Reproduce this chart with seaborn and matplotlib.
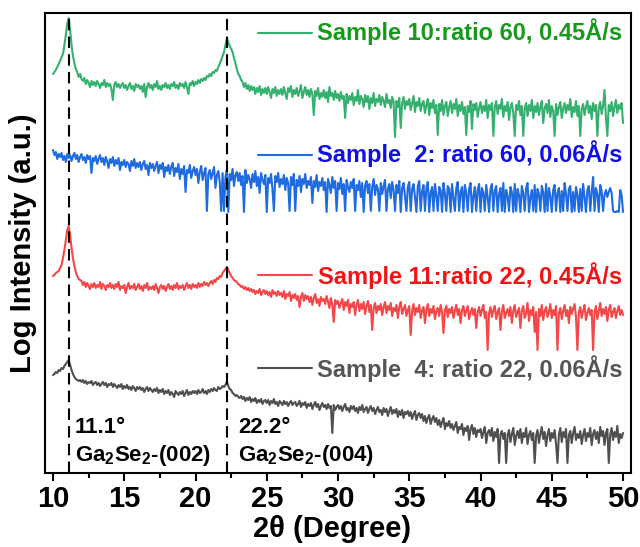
import numpy as np
import pandas as pd
import matplotlib
matplotlib.use("Agg")
import matplotlib.pyplot as plt
import seaborn as sns

# ---------------- data (2theta grid 10..50 step 0.1, arbitrary log-intensity units) -------------
two_theta = np.round(np.arange(100, 501) / 10.0, 1)

sample10 = [
    399, 401, 403, 406, 409, 412, 416, 419, 428, 438,
    449, 455, 443, 428, 417, 410, 404, 401, 396, 399,
    394, 392, 395, 389, 393, 390, 386, 392, 388, 391,
    387, 392, 389, 385, 390, 388, 393, 386, 390, 387,
    389, 384, 373, 388, 391, 386, 389, 385, 388, 390,
    385, 388, 383, 387, 390, 384, 387, 382, 389, 386,
    388, 384, 387, 381, 389, 376, 386, 390, 385, 388,
    383, 389, 386, 392, 384, 387, 383, 388, 386, 390,
    385, 388, 384, 389, 387, 391, 385, 388, 384, 390,
    387, 389, 385, 391, 386, 379, 390, 388, 392, 387,
    391, 389, 393, 390, 394, 392, 395, 393, 397, 396,
    399, 397, 401, 400, 403, 402, 406, 409, 413, 417,
    421, 428, 434, 431, 427, 424, 421, 415, 410, 404,
    399, 397, 393, 391, 386, 390, 384, 388, 382, 387,
    383, 386, 379, 385, 381, 387, 378, 384, 380, 385,
    379, 386, 381, 375, 384, 380, 386, 377, 383, 379,
    384, 378, 386, 380, 374, 385, 381, 387, 376, 383,
    379, 385, 377, 382, 388, 375, 381, 386, 378, 383,
    376, 384, 379, 358, 382, 377, 385, 374, 380, 376,
    383, 375, 381, 371, 386, 377, 380, 373, 382, 375,
    379, 372, 381, 374, 377, 355, 379, 370, 377, 373,
    380, 368, 376, 372, 383, 369, 377, 374, 366, 378,
    371, 377, 364, 375, 370, 380, 367, 374, 371, 378,
    368, 376, 372, 366, 379, 370, 373, 365, 376, 371,
    336, 372, 366, 375, 345, 370, 376, 364, 372, 368,
    374, 363, 370, 377, 361, 371, 367, 375, 362, 369,
    372, 360, 368, 374, 358, 370, 365, 373, 360, 368,
    338, 369, 362, 373, 358, 367, 371, 357, 366, 372,
    360, 369, 364, 374, 357, 368, 362, 371, 359, 366,
    338, 367, 361, 372, 344, 369, 363, 370, 356, 365,
    371, 360, 367, 362, 373, 355, 368, 363, 370, 337,
    366, 372, 359, 368, 364, 374, 356, 367, 362, 371,
    353, 366, 370, 360, 337, 368, 363, 372, 358, 367,
    337, 364, 370, 357, 368, 362, 373, 355, 367, 361,
    370, 358, 366, 372, 350, 365, 369, 360, 373, 356,
    367, 362, 337, 369, 358, 366, 371, 355, 364, 370,
    360, 368, 363, 374, 356, 366, 361, 372, 357, 367,
    337, 364, 369, 358, 366, 372, 360, 367, 354, 370,
    362, 368, 337, 365, 371, 359, 367, 383, 356, 337,
    368, 362, 371, 357, 366, 373, 360, 368, 364, 370,
    350,
]

sample2 = [
    323, 318, 321, 314, 319, 316, 320, 313, 317, 311,
    319, 315, 318, 312, 317, 320, 314, 318, 311, 316,
    319, 313, 316, 310, 318, 314, 317, 300, 315, 312,
    317, 309, 314, 318, 311, 315, 308, 316, 312, 305,
    314, 310, 316, 307, 313, 309, 315, 303, 311, 308,
    313, 306, 311, 309, 302, 312, 307, 314, 305, 310,
    306, 311, 303, 309, 312, 304, 308, 298, 310, 305,
    309, 302, 307, 311, 300, 308, 304, 310, 296, 306,
    302, 308, 299, 306, 310, 297, 305, 301, 309, 294,
    304, 299, 307, 281, 303, 300, 308, 295, 302, 306,
    298, 304, 290, 301, 307, 293, 300, 305, 262, 299,
    303, 294, 300, 306, 285, 298, 302, 291, 262, 300,
    262, 296, 303, 261, 299, 293, 304, 287, 298, 301,
    292, 300, 288, 297, 261, 303, 290, 298, 294, 285,
    299, 291, 302, 287, 296, 280, 300, 293, 289, 298,
    261, 295, 290, 299, 284, 262, 297, 291, 300, 286,
    294, 289, 298, 283, 295, 290, 262, 296, 288, 299,
    262, 293, 287, 297, 281, 294, 289, 299, 285, 292,
    288, 296, 270, 292, 286, 298, 282, 291, 287, 295,
    283, 291, 261, 294, 288, 280, 296, 285, 292, 262,
    290, 284, 295, 279, 289, 262, 293, 286, 281, 291,
    285, 294, 262, 288, 283, 292, 276, 290, 261, 287,
    292, 280, 289, 262, 286, 294, 278, 288, 284, 262,
    290, 279, 287, 293, 262, 284, 289, 275, 291, 283,
    262, 288, 280, 292, 261, 285, 290, 277, 262, 286,
    291, 262, 284, 289, 276, 261, 287, 292, 262, 282,
    288, 262, 285, 291, 261, 280, 286, 262, 289, 278,
    262, 286, 283, 261, 290, 279, 262, 287, 284, 261,
    289, 275, 262, 285, 291, 262, 281, 286, 261, 288,
    280, 262, 284, 290, 261, 277, 286, 262, 283, 289,
    261, 285, 280, 262, 288, 276, 261, 284, 289, 262,
    282, 287, 261, 279, 285, 262, 290, 261, 283, 277,
    262, 286, 281, 261, 289, 262, 284, 278, 261, 287,
    280, 262, 285, 290, 261, 276, 283, 262, 288, 261,
    284, 279, 262, 287, 281, 261, 289, 262, 285, 277,
    261, 283, 288, 262, 280, 285, 261, 282, 262, 290,
    279, 262, 284, 287, 261, 281, 262, 286, 278, 261,
    284, 262, 289, 276, 261, 283, 287, 262, 281, 296,
    262, 285, 279, 261, 288, 282, 262, 278, 283, 276,
    281, 285, 280, 262, 261, 261, 262, 261, 283, 278,
    261,
]

sample11 = [
    197, 198, 200, 201, 202, 205, 208, 215, 223, 233,
    243, 247, 238, 225, 215, 207, 201, 197, 194, 193,
    192, 188, 191, 186, 190, 187, 184, 189, 186, 190,
    185, 188, 186, 191, 184, 189, 187, 183, 188, 186,
    190, 185, 188, 184, 189, 186, 191, 183, 187, 185,
    188, 180, 186, 190, 184, 187, 185, 189, 183, 186,
    189, 184, 187, 182, 188, 185, 190, 183, 186, 184,
    187, 183, 189, 185, 180, 186, 188, 184, 187, 182,
    186, 189, 184, 187, 183, 188, 185, 190, 184, 187,
    185, 188, 183, 187, 190, 185, 188, 184, 189, 186,
    188, 185, 190, 186, 189, 187, 191, 188, 190, 187,
    190, 192, 189, 193, 191, 195, 194, 197, 196, 200,
    202, 204, 206, 203, 200, 197, 195, 193, 192, 191,
    189, 188, 186, 187, 184, 186, 183, 185, 182, 184,
    181, 183, 179, 182, 180, 184, 178, 181, 183, 179,
    182, 178, 181, 176, 183, 179, 181, 177, 182, 178,
    180, 176, 182, 174, 179, 177, 181, 172, 178, 175,
    179, 173, 177, 166, 176, 180, 172, 178, 174, 177,
    171, 176, 168, 175, 179, 170, 174, 167, 176, 172,
    174, 169, 177, 171, 165, 175, 168, 151, 173, 169,
    172, 165, 170, 174, 163, 171, 167, 173, 160, 169,
    166, 171, 158, 168, 173, 162, 169, 164, 171, 159,
    167, 172, 161, 168, 143, 165, 170, 160, 167, 163,
    169, 158, 166, 171, 160, 167, 163, 170, 157, 165,
    162, 168, 155, 166, 171, 159, 164, 168, 157, 163,
    167, 138, 162, 169, 158, 165, 161, 168, 155, 163,
    166, 150, 163, 169, 157, 164, 160, 167, 154, 162,
    165, 157, 168, 161, 140, 163, 167, 156, 164, 160,
    166, 155, 162, 168, 158, 164, 150, 163, 167, 157,
    162, 167, 154, 160, 165, 158, 164, 145, 161, 166,
    157, 163, 168, 155, 161, 123, 160, 166, 156, 163,
    167, 154, 161, 165, 143, 162, 168, 155, 160, 164,
    157, 166, 150, 162, 168, 156, 161, 165, 145, 163,
    167, 155, 160, 170, 152, 163, 158, 166, 141, 161,
    123, 164, 157, 168, 153, 162, 166, 156, 161, 169,
    155, 163, 158, 167, 123, 160, 165, 154, 162, 168,
    157, 163, 150, 166, 159, 164, 169, 156, 123, 161,
    166, 155, 162, 168, 153, 160, 165, 158, 163, 123,
    161, 167, 154, 162, 170, 157, 164, 159, 166, 152,
    163, 168, 156, 161, 165, 155, 162, 167, 158, 163,
    158,
]

sample4 = [
    98, 99, 101, 100, 103, 102, 105, 104, 107, 109,
    111, 113, 108, 103, 99, 96, 94, 93, 92, 93,
    91, 93, 90, 92, 89, 91, 90, 92, 88, 90,
    91, 88, 90, 87, 89, 91, 88, 90, 86, 89,
    88, 90, 86, 89, 87, 85, 88, 86, 89, 84,
    87, 85, 88, 84, 86, 83, 87, 85, 82, 86,
    84, 86, 83, 85, 81, 84, 86, 82, 85, 83,
    81, 84, 82, 85, 80, 83, 81, 84, 79, 82,
    80, 83, 78, 81, 79, 76, 82, 80, 78, 81,
    79, 82, 77, 80, 83, 78, 81, 79, 82, 80,
    82, 79, 83, 80, 81, 84, 80, 82, 79, 83,
    81, 84, 82, 85, 83, 82, 86, 84, 85, 87,
    86, 88, 91, 87, 84, 83, 80, 79, 77, 78,
    76, 75, 77, 74, 76, 72, 75, 73, 76, 71,
    74, 72, 75, 70, 73, 71, 74, 69, 72, 73,
    70, 73, 68, 72, 70, 74, 69, 71, 67, 72,
    70, 68, 72, 69, 71, 67, 70, 72, 68, 70,
    71, 67, 69, 72, 66, 70, 68, 71, 65, 69,
    67, 70, 64, 68, 71, 66, 69, 63, 67, 70,
    66, 68, 64, 69, 65, 67, 40, 68, 63, 66,
    68, 64, 67, 62, 66, 69, 63, 65, 61, 67,
    64, 67, 62, 65, 60, 66, 63, 68, 61, 64,
    66, 60, 64, 67, 62, 65, 59, 63, 66, 61,
    63, 58, 65, 61, 64, 57, 62, 66, 59, 63,
    60, 64, 56, 62, 58, 63, 55, 61, 59, 62,
    57, 61, 54, 59, 62, 53, 58, 60, 55, 59,
    52, 57, 50, 55, 58, 49, 54, 57, 51, 55,
    48, 53, 46, 51, 55, 44, 50, 47, 52, 45,
    49, 43, 47, 51, 40, 46, 44, 49, 38, 45,
    42, 47, 33, 44, 48, 39, 45, 36, 43, 41,
    44, 35, 41, 46, 30, 40, 43, 37, 45, 32,
    41, 36, 44, 10, 39, 42, 34, 40, 10, 38,
    43, 31, 39, 45, 28, 37, 42, 35, 44, 30,
    40, 36, 45, 29, 38, 42, 33, 40, 10, 37,
    43, 30, 39, 46, 34, 41, 27, 38, 44, 32,
    40, 35, 43, 29, 10, 38, 45, 31, 41, 36,
    44, 10, 38, 42, 30, 40, 46, 33, 39, 35,
    42, 29, 38, 44, 32, 40, 36, 45, 28, 39,
    43, 34, 41, 30, 46, 37, 42, 28, 40, 44,
    10, 38, 45, 33, 41, 36, 47, 30, 39, 35,
    40,
]

series_names = ["Sample 10:ratio 60, 0.45Å/s", "Sample  2: ratio 60, 0.06Å/s",
                "Sample 11:ratio 22, 0.45Å/s", "Sample  4: ratio 22, 0.06Å/s"]
series_values = [sample10, sample2, sample11, sample4]
line_colors = ["#35b06f", "#1f6be0", "#f34848", "#4f4f4f"]
text_colors = ["#179a1b", "#0f0fe6", "#f01414", "#555555"]

peak_positions = [11.1, 22.2]
peak_angle_labels = ["11.1°", "22.2°"]
peak_hkl_labels = [r"Ga$_\mathbf{2}$Se$_\mathbf{2}$-(002)", r"Ga$_\mathbf{2}$Se$_\mathbf{2}$-(004)"]

x_ticks = [10, 15, 20, 25, 30, 35, 40, 45, 50]

# ---------------- style -------------
sns.set_style("ticks")
plt.rcParams["font.family"] = ["Liberation Sans", "DejaVu Sans"]
plt.rcParams["mathtext.fontset"] = "custom"
plt.rcParams["mathtext.rm"] = "Liberation Sans"
plt.rcParams["mathtext.bf"] = "Liberation Sans:bold"
plt.rcParams["text.color"] = "black"
plt.rcParams["axes.labelcolor"] = "black"
plt.rcParams["xtick.color"] = "black"
plt.rcParams["xtick.labelcolor"] = "black"

df = pd.concat(
    [pd.DataFrame({"2theta": two_theta, "intensity": vals, "sample": name})
     for name, vals in zip(series_names, series_values)],
    ignore_index=True,
)

fig = plt.figure(figsize=(6.4, 5.47), dpi=100)
ax = fig.add_axes([0.0708, 0.1353, 0.9147, 0.8415])

sns.lineplot(data=df, x="2theta", y="intensity", hue="sample", hue_order=series_names,
             palette=dict(zip(series_names, line_colors)), estimator=None, sort=False,
             linewidth=1.5, legend=False, ax=ax, zorder=2)

for p in peak_positions:
    ax.axvline(p, color="black", lw=1.5, linestyle=(0, (5.5, 3)), zorder=3)

# legend-like labels
leg_line_y = [440, 318, 198, 105]
leg_text_y = [433, 310.7, 188.7, 95.7]
for name, lc, tc, ly, ty in zip(series_names, line_colors, text_colors, leg_line_y, leg_text_y):
    ax.plot([24.41, 28.15], [ly, ly], color=lc, lw=1.5)
    ax.text(49.93, ty, name, color=tc, fontsize=17, fontweight="bold",
            ha="right", va="baseline")

for p, ang, hkl, xt in zip(peak_positions, peak_angle_labels, peak_hkl_labels, [11.54, 23.0]):
    ax.text(xt, 40, ang, fontsize=16, fontweight="bold", ha="left", va="baseline", color="black")
    ax.text(xt, 12, hkl, fontsize=16, fontweight="bold", ha="left", va="baseline", color="black")

ax.set_xlim(9.46, 50.54)
ax.set_ylim(0, 460.3)
ax.set_xticks(x_ticks)
ax.set_xticks([12.5, 17.5, 22.5, 27.5, 32.5, 37.5, 42.5, 47.5], minor=True)
ax.set_yticks([])
ax.tick_params(axis="x", which="major", direction="out", length=6, width=1.5,
               labelsize=21, pad=3, colors="black")
ax.tick_params(axis="x", which="minor", direction="out", length=3.5, width=1.5, colors="black")
for lab in ax.get_xticklabels():
    lab.set_fontweight("bold")
    lab.set_color("black")
for sp in ax.spines.values():
    sp.set_linewidth(1.5)
    sp.set_color("black")
    sp.set_visible(True)

ax.set_xlabel("2θ (Degree)", fontsize=21, fontweight="bold", color="black")
ax.set_ylabel("Log Intensity (a.u.)", fontsize=21, fontweight="bold", color="black")
ax.xaxis.set_label_coords(0.49, -0.092)
ax.yaxis.set_label_coords(-0.014, 0.5)

fig.savefig("out.png", dpi=100)
